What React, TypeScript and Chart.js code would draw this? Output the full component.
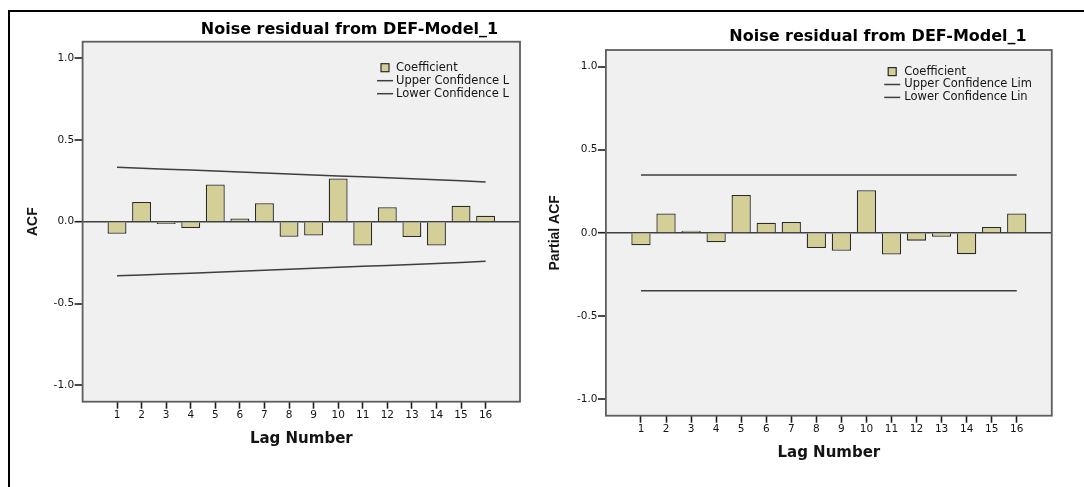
import React, { useEffect, useRef } from 'react';
import { Chart, registerables } from 'chart.js';

Chart.register(...registerables);

// ---------------- data ----------------
const lags = [1, 2, 3, 4, 5, 6, 7, 8, 9, 10, 11, 12, 13, 14, 15, 16];
const yTickValues = [-1.0, -0.5, 0.0, 0.5, 1.0];
const chartTitle = 'Noise residual from DEF-Model_1';

const acfCoefficient = [-0.074, 0.121, -0.014, -0.039, 0.227, 0.020, 0.113, -0.092, -0.084, 0.264, -0.145, 0.088, -0.094, -0.145, 0.098, 0.037];
const acfUpper = [0.332, 0.327, 0.321, 0.316, 0.310, 0.304, 0.298, 0.292, 0.286, 0.280, 0.274, 0.268, 0.262, 0.256, 0.250, 0.243];
const acfLower = [-0.331, -0.326, -0.320, -0.315, -0.309, -0.303, -0.297, -0.291, -0.285, -0.279, -0.273, -0.267, -0.261, -0.255, -0.249, -0.242];
const acfLegend = ['Coefficient', 'Upper Confidence L', 'Lower Confidence L'];

const pacfCoefficient = [-0.075, 0.116, 0.002, -0.057, 0.228, 0.061, 0.065, -0.091, -0.108, 0.256, -0.130, -0.047, -0.024, -0.128, 0.035, 0.116];
const pacfUpper = [0.348, 0.348, 0.348, 0.348, 0.348, 0.348, 0.348, 0.348, 0.348, 0.348, 0.348, 0.348, 0.348, 0.348, 0.348, 0.348];
const pacfLower = [-0.348, -0.348, -0.348, -0.348, -0.348, -0.348, -0.348, -0.348, -0.348, -0.348, -0.348, -0.348, -0.348, -0.348, -0.348, -0.348];
const pacfLegend = ['Coefficient', 'Upper Confidence Lim', 'Lower Confidence Lin'];

// ---------------- styles ----------------
const BAR_FILL = '#d4cf97';
const BAR_EDGE = '#2a2a2a';
const LINE_COLOR = '#3e3e3e';
const PLOT_BG = '#f0f0f0';
const FRAME = '#5e5e5e';
const TEXT = '#141414';

type Spec = {
  left: number;
  width: number;
  yLabel: string;
  coef: number[];
  upper: number[];
  lower: number[];
  legend: string[];
  pad: { left: number; right: number; top: number; bottom: number };
  yAxisWidth: number;
  xAxisHeight: number;
  yTitlePad: number;
  titleX: number;
  titleY: number;
  legendMarkX: number;
  legendTextX: number;
  legendY0: number;
  legendGap: number;
};

const leftSpec: Spec = {
  left: 0,
  width: 545,
  yLabel: 'ACF',
  coef: acfCoefficient,
  upper: acfUpper,
  lower: acfLower,
  legend: acfLegend,
  pad: { left: 0, right: 25, top: 41.7, bottom: 38.7 },
  yAxisWidth: 82.6,
  xAxisHeight: 46.6,
  yTitlePad: 24.3,
  titleX: 349.5,
  titleY: 34.3,
  legendMarkX: 385,
  legendTextX: 396,
  legendY0: 67.7,
  legendGap: 13,
};

const rightSpec: Spec = {
  left: 545,
  width: 539,
  yLabel: 'Partial ACF',
  coef: pacfCoefficient,
  upper: pacfUpper,
  lower: pacfLower,
  legend: pacfLegend,
  pad: { left: 0, right: 32.2, top: 50, bottom: 25.3 },
  yAxisWidth: 60.9,
  xAxisHeight: 46,
  yTitlePad: 2.2,
  titleX: 333,
  titleY: 41,
  legendMarkX: 347.2,
  legendTextX: 359.3,
  legendY0: 71.6,
  legendGap: 12.9,
};

function makeDecor(spec: Spec) {
  return {
    id: 'spssDecor',
    beforeDraw(chart: any) {
      const { ctx, chartArea: a } = chart;
      ctx.save();
      ctx.fillStyle = PLOT_BG;
      ctx.fillRect(a.left, a.top, a.right - a.left, a.bottom - a.top);
      ctx.restore();
    },
    afterDraw(chart: any) {
      const { ctx, chartArea: a } = chart;
      ctx.save();
      ctx.strokeStyle = FRAME;
      ctx.lineWidth = 1.8;
      ctx.strokeRect(a.left, a.top, a.right - a.left, a.bottom - a.top);

      ctx.fillStyle = '#000';
      ctx.font = 'bold 16px "DejaVu Sans"';
      ctx.textAlign = 'center';
      ctx.textBaseline = 'alphabetic';
      ctx.fillText(chartTitle, spec.titleX, spec.titleY);

      ctx.font = '11.5px "DejaVu Sans"';
      ctx.textAlign = 'left';
      ctx.textBaseline = 'middle';
      spec.legend.forEach((label, i) => {
        const y = spec.legendY0 + i * spec.legendGap;
        if (i === 0) {
          ctx.fillStyle = BAR_FILL;
          ctx.fillRect(spec.legendMarkX - 4, y - 4, 8, 8);
          ctx.strokeStyle = BAR_EDGE;
          ctx.lineWidth = 1.2;
          ctx.strokeRect(spec.legendMarkX - 4, y - 4, 8, 8);
        } else {
          ctx.strokeStyle = LINE_COLOR;
          ctx.lineWidth = 1.5;
          ctx.beginPath();
          ctx.moveTo(spec.legendMarkX - 8, y);
          ctx.lineTo(spec.legendMarkX + 8, y);
          ctx.stroke();
        }
        ctx.fillStyle = TEXT;
        ctx.fillText(label, spec.legendTextX, y);
      });
      ctx.restore();
    },
  };
}

function makeConfig(spec: Spec): any {
  const tickFont = { family: '"DejaVu Sans"', size: 10.5 };
  return {
    type: 'bar',
    data: {
      datasets: [
        {
          type: 'bar',
          label: spec.legend[0],
          data: lags.map((l, i) => ({ x: l, y: spec.coef[i] })),
          backgroundColor: BAR_FILL,
          borderColor: BAR_EDGE,
          borderWidth: 1.3,
          minBarLength: 2,
          barPercentage: 0.77,
          categoryPercentage: 1,
        },
        {
          type: 'line',
          label: spec.legend[1],
          data: lags.map((l, i) => ({ x: l, y: spec.upper[i] })),
          borderColor: LINE_COLOR,
          borderWidth: 1.5,
          pointRadius: 0,
          fill: false,
          tension: 0,
        },
        {
          type: 'line',
          label: spec.legend[2],
          data: lags.map((l, i) => ({ x: l, y: spec.lower[i] })),
          borderColor: LINE_COLOR,
          borderWidth: 1.5,
          pointRadius: 0,
          fill: false,
          tension: 0,
        },
      ],
    },
    options: {
      responsive: false,
      maintainAspectRatio: false,
      animation: false,
      events: [],
      layout: { padding: spec.pad },
      plugins: {
        legend: { display: false },
        title: { display: false },
        tooltip: { enabled: false },
      },
      scales: {
        x: {
          type: 'linear',
          position: 'bottom',
          min: -0.4,
          max: 17.4,
          offset: false,
          afterBuildTicks: (s: any) => {
            s.ticks = lags.map((v) => ({ value: v }));
          },
          afterFit: (s: any) => {
            s.height = spec.xAxisHeight;
          },
          ticks: {
            callback: (v: any) => String(v),
            font: tickFont,
            color: TEXT,
            padding: 0.5,
            maxRotation: 0,
            minRotation: 0,
            autoSkip: false,
          },
          grid: {
            offset: false,
            drawOnChartArea: false,
            drawTicks: true,
            tickLength: 7,
            tickColor: '#1e1e1e',
            tickWidth: 1.6,
          },
          border: { display: false },
          title: {
            display: true,
            text: 'Lag Number',
            font: { family: '"DejaVu Sans"', weight: 'bold', size: 15 },
            color: TEXT,
            padding: { top: 0, bottom: 0 },
          },
        },
        y: {
          type: 'linear',
          position: 'left',
          min: -1.1,
          max: 1.1,
          afterBuildTicks: (s: any) => {
            s.ticks = yTickValues.map((v) => ({ value: v }));
          },
          afterFit: (s: any) => {
            s.width = spec.yAxisWidth;
          },
          ticks: {
            callback: (v: any) => Number(v).toFixed(1),
            font: tickFont,
            color: TEXT,
            padding: 0.5,
          },
          grid: {
            drawOnChartArea: true,
            drawTicks: true,
            color: (c: any) => (c.tick && c.tick.value === 0 ? '#404040' : 'rgba(0,0,0,0)'),
            lineWidth: (c: any) => (c.tick && c.tick.value === 0 ? 1.4 : 0),
            tickLength: 8,
            tickColor: '#1e1e1e',
            tickWidth: 1.6,
          },
          border: { display: false },
          title: {
            display: true,
            text: spec.yLabel,
            font: { family: '"Liberation Sans"', weight: 'bold', size: 14 },
            color: TEXT,
            padding: { top: spec.yTitlePad, bottom: 0 },
          },
        },
      },
    },
    plugins: [makeDecor(spec)],
  };
}

function Panel({ spec }: { spec: Spec }) {
  const ref = useRef<HTMLCanvasElement | null>(null);
  useEffect(() => {
    if (!ref.current) return;
    const chart = new Chart(ref.current, makeConfig(spec));
    return () => chart.destroy();
  }, [spec]);
  return (
    <canvas
      ref={ref}
      width={spec.width}
      height={487}
      style={{ position: 'absolute', left: spec.left, top: 0, width: spec.width, height: 487 }}
    />
  );
}

export default function App() {
  return (
    <div
      style={{
        position: 'fixed',
        left: 0,
        top: 0,
        width: 1084,
        height: 487,
        background: '#ffffff',
        overflow: 'hidden',
      }}
    >
      <Panel spec={leftSpec} />
      <Panel spec={rightSpec} />
      <div style={{ position: 'absolute', left: 8, top: 10, width: 1076, height: 2, background: '#000' }} />
      <div style={{ position: 'absolute', left: 8, top: 10, width: 2, height: 477, background: '#000' }} />
    </div>
  );
}
